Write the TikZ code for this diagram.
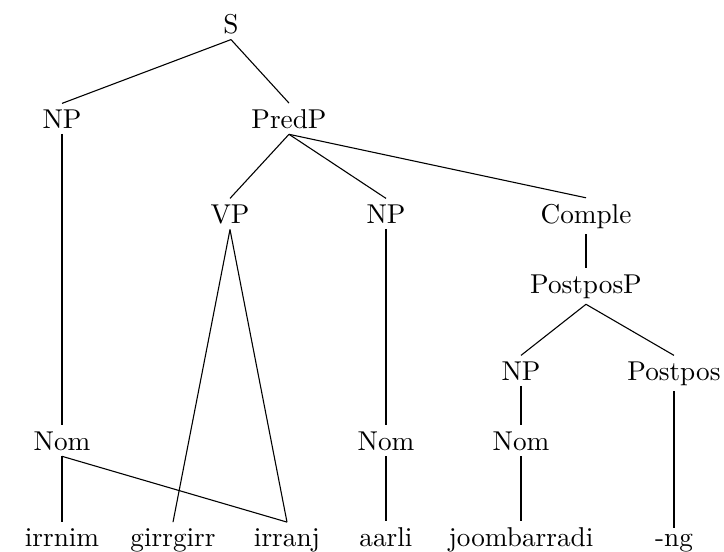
\documentclass[tikz,border=0pt]{standalone}
\usepackage{tikz}

\begin{document}
\begin{tikzpicture}[x=0.367pt, y=-0.367pt, every node/.style={anchor=base, inner sep=2pt}]
    \useasboundingbox (0, 0) rectangle (724, 552);

    % top levels
    \node (S) at (231, 33) {S};
    \node (NP) at (62, 128) {NP};
    \node (PredP) at (289, 128) {PredP};

    \draw (S.south) -- (NP.north);
    \draw (S.south) -- (PredP.north);

    % daughters of PredP
    \node (VP) at (230, 223) {VP};
    \node (NP1) at (386, 223) {NP};
    \node (Comple) at (586, 223) {Comple};

    \draw (PredP.south) -- (VP.north);
    \draw (PredP.south) -- (NP1.north);
    \draw (PredP.south) -- (Comple.north);

    % postposition phrase
    \node (PostposP) at (586, 293) {PostposP};
    \node (NP2) at (521, 380) {NP};
    \node (Postpos) at (674, 380) {Postpos};

    \draw (Comple.south) -- (PostposP.north);
    \draw (PostposP.south) -- (NP2.north);
    \draw (PostposP.south) -- (Postpos.north);

    % Nom level
    \node (Nom) at (62, 450) {Nom};
    \node (Nom1) at (386, 450) {Nom};
    \node (Nom2) at (521, 450) {Nom};

    \draw (NP.south) -- (Nom.north);
    \draw (NP1.south) -- (Nom1.north);
    \draw (NP2.south) -- (Nom2.north);

    % words
    \node (irrnim) at (62, 546) {irrnim};
    \node (girrgirr) at (173, 546) {girrgirr};
    \node (irranj) at (287, 546) {irranj};
    \node (aarli) at (386, 546) {aarli};
    \node (joombarradi) at (521, 546) {joombarradi};
    \node (ng) at (674, 546) {-ng};

    \draw (Nom.south) -- (irrnim.north);
    \draw (Nom.south) -- (irranj.north);
    \draw (VP.south) -- (girrgirr.north);
    \draw (VP.south) -- (irranj.north);
    \draw (Nom1.south) -- (aarli.north);
    \draw (Nom2.south) -- (joombarradi.north);
    \draw (Postpos.south) -- (ng.north);
\end{tikzpicture}
\end{document}
